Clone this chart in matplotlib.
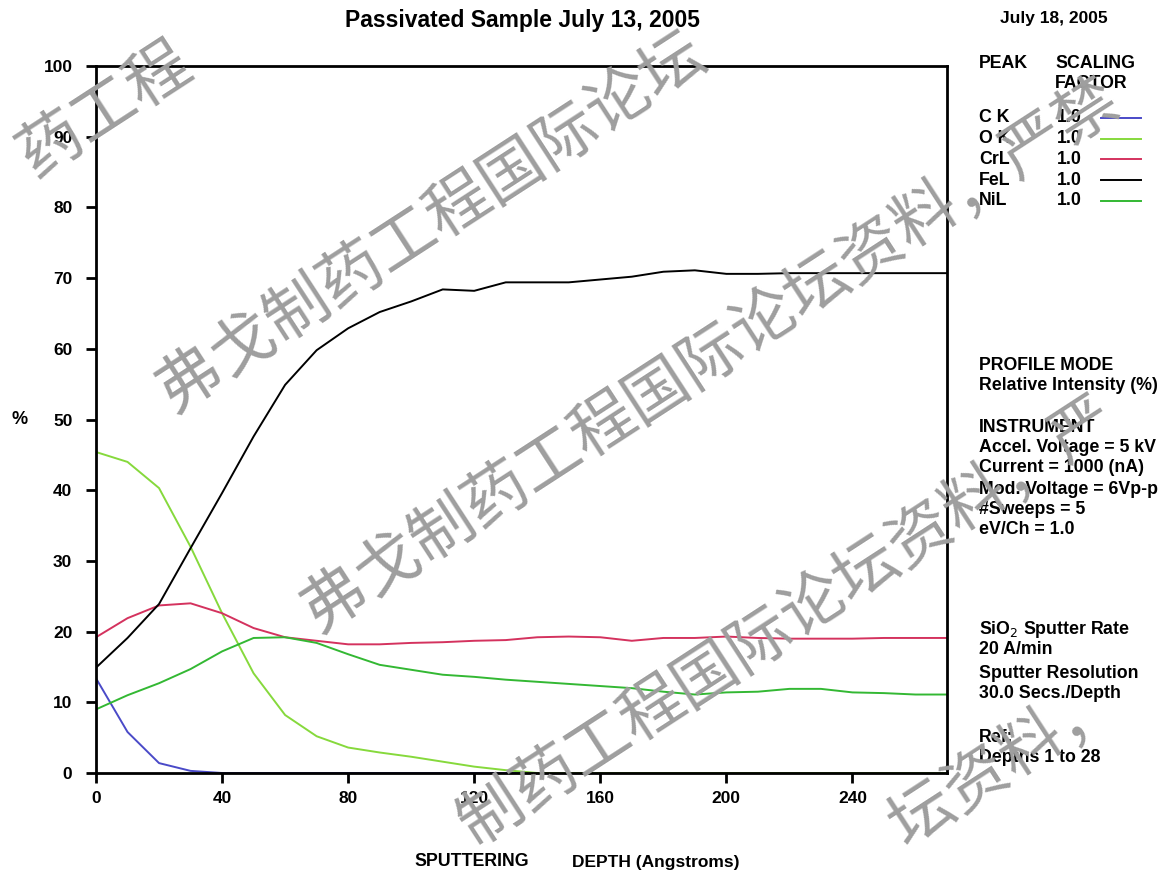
import numpy as np
import matplotlib
matplotlib.use("Agg")
import matplotlib.pyplot as plt

plt.rcParams['font.family'] = ['Liberation Sans', 'DejaVu Sans']

# ==== Data ====
depth = [0, 10, 20, 30, 40, 50, 60, 70, 80, 90, 100, 110, 120, 130,
         140, 150, 160, 170, 180, 190, 200, 210, 220, 230, 240, 250, 260, 270]

c_k = [13.4, 5.8, 1.4, 0.3, 0.0, 0.0, 0.0, 0.0, 0.0, 0.0, 0.0, 0.0, 0.0, 0.0,
       0.0, 0.0, 0.0, 0.0, 0.0, 0.0, 0.0, 0.0, 0.0, 0.0, 0.0, 0.0, 0.0, 0.0]
o_k = [45.4, 44.0, 40.3, 32.0, 22.6, 14.1, 8.2, 5.2, 3.6, 2.9, 2.3, 1.6, 0.9, 0.4,
       0.0, 0.0, 0.0, 0.0, 0.0, 0.0, 0.0, 0.0, 0.0, 0.0, 0.0, 0.0, 0.0, 0.0]
cr_l = [19.2, 21.9, 23.7, 24.0, 22.6, 20.5, 19.2, 18.7, 18.2, 18.2, 18.4, 18.5, 18.7, 18.8,
        19.2, 19.3, 19.2, 18.7, 19.1, 19.1, 19.3, 19.1, 19.0, 19.0, 19.0, 19.1, 19.1, 19.1]
fe_l = [14.9, 19.1, 23.9, 31.8, 39.6, 47.6, 54.9, 59.8, 62.9, 65.2, 66.7, 68.4, 68.2, 69.4,
        69.4, 69.4, 69.8, 70.2, 70.9, 71.1, 70.6, 70.6, 70.7, 70.7, 70.7, 70.7, 70.7, 70.7]
ni_l = [9.0, 11.0, 12.7, 14.7, 17.2, 19.1, 19.2, 18.4, 16.8, 15.3, 14.6, 13.9, 13.6, 13.2,
        12.9, 12.6, 12.3, 12.0, 11.5, 11.1, 11.4, 11.5, 11.9, 11.9, 11.4, 11.3, 11.1, 11.1]

peaks = ["C K", "O K", "CrL", "FeL", "NiL"]
scaling = ["1.0", "1.0", "1.0", "1.0", "1.0"]
colors = ["#4a4ac8", "#86d93c", "#d4325e", "#000000", "#33b833"]

info_lines = [
    ("PROFILE MODE", 366), ("Relative Intensity (%)", 386),
    ("INSTRUMENT", 428), ("Accel. Voltage = 5 kV", 448), ("Current = 1000 (nA)", 468),
    ("Mod. Voltage = 6Vp-p", 489), ("#Sweeps = 5", 509), ("eV/Ch = 1.0", 530),
    ("SiO$_2$ Sputter Rate", 630), ("20 A/min", 650),
    ("Sputter Resolution", 674), ("30.0 Secs./Depth", 694),
    ("Ref:", 737), ("Depths 1 to 28", 758),
]

W, H = 1161, 875
fig = plt.figure(figsize=(W / 100, H / 100), dpi=100)
ax = fig.add_axes([96 / W, 1 - 773 / H, (947 - 96) / W, (773 - 66) / H])

# lines sit under the spines so zero values hide behind the x axis
for series, col in zip([c_k, o_k, cr_l, fe_l, ni_l], colors):
    ax.plot(depth, series, color=col, lw=1.4, zorder=2)

ax.set_xlim(0, 270)
ax.set_ylim(0, 100)
ax.set_xticks(np.arange(0, 241, 40))
ax.set_yticks(np.arange(0, 101, 10))
ax.tick_params(direction='out', length=7, width=2, labelsize=12.5)
ax.tick_params(axis='y', pad=10)
ax.tick_params(axis='x', pad=6)
for lab in ax.get_xticklabels() + ax.get_yticklabels():
    lab.set_fontweight('bold')
for sp in ax.spines.values():
    sp.set_linewidth(2)
    sp.set_zorder(2.5)


def px(x, y):
    return x / W, 1 - y / H


fig.text(*px(522, 20), "Passivated Sample July 13, 2005", ha='center', va='center',
         fontsize=16.5, fontweight='bold')
fig.text(*px(1054, 19), "July 18, 2005", ha='center', va='center', fontsize=12.5, fontweight='bold')
fig.text(*px(20, 420), "%", ha='center', va='center', fontsize=13, fontweight='bold')
fig.text(*px(472, 862), "SPUTTERING", ha='center', va='center', fontsize=12.8, fontweight='bold')
fig.text(*px(656, 862), "DEPTH (Angstroms)", ha='center', va='center', fontsize=12.5, fontweight='bold')

fs = 12.8
fig.text(*px(979, 63), "PEAK", ha='left', va='center', fontsize=fs, fontweight='bold')
fig.text(*px(1055, 63), "SCALING", ha='left', va='center', fontsize=fs, fontweight='bold')
fig.text(*px(1055, 84), "FACTOR", ha='left', va='center', fontsize=fs, fontweight='bold')
for i, (p, s, col) in enumerate(zip(peaks, scaling, colors)):
    yy = 118 + i * 20.7
    fig.text(*px(979, yy), p, ha='left', va='center', fontsize=fs, fontweight='bold')
    fig.text(*px(1057, yy), s, ha='left', va='center', fontsize=fs, fontweight='bold')
    fig.add_artist(plt.Line2D([1101 / W, 1141 / W], [1 - yy / H] * 2, color=col, lw=1.4))

for txt, yy in info_lines:
    fig.text(*px(979, yy), txt, ha='left', va='center', fontsize=fs, fontweight='bold')

# ==== watermark: one glyph at a time along each slanted line ====
wm = "弗戈制药工程国际论坛资料，严禁"
ang = 33
step = 64
dx, dy = step * np.cos(np.radians(ang)), step * np.sin(np.radians(ang))
for (x0, y0) in [(-110, 250), (190, 380), (335, 600), (384, 884), (440, 1129)]:
    for i, ch in enumerate(wm):
        cx, cy = x0 + i * dx, y0 - i * dy
        if 44 <= cx <= W - 44 and 44 <= cy <= H - 44:
            fig.text(*px(cx, cy), ch, ha='center', va='center', fontsize=46, color='#9e9e9e',
                     rotation=ang, family=['Noto Sans CJK SC', 'DejaVu Sans'], zorder=10)

fig.savefig("out.png", dpi=100)
